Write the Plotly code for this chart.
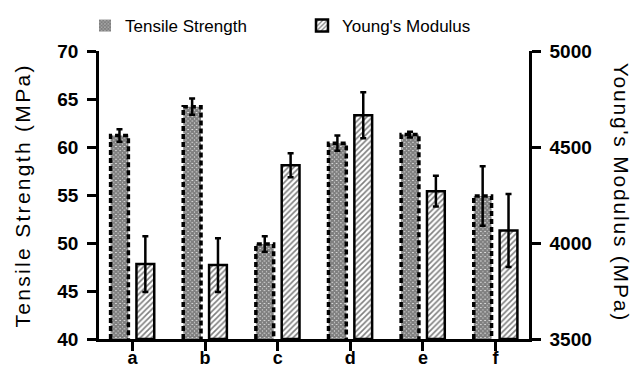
import plotly.graph_objects as go

categories = ["a", "b", "c", "d", "e", "f"]
tensile = [61.2, 64.2, 49.9, 60.4, 61.3, 54.9]
tensile_err = [0.65, 0.85, 0.8, 0.8, 0.3, 3.1]
young = [3890, 3885, 4405, 4665, 4270, 4065]
young_err = [145, 140, 62, 120, 80, 190]

FONT = "Liberation Sans, Arial, sans-serif"
idx = list(range(len(categories)))
shift = 0.178
bw = 0.245
x_t = [i - shift for i in idx]
x_y = [i + shift for i in idx]

fig = go.Figure()

fig.add_trace(go.Bar(
    x=x_t, y=[v - 40 for v in tensile], base=40, width=bw, name="Tensile Strength",
    legend="legend",
    marker=dict(color="white", line=dict(width=0),
                pattern=dict(shape="x", size=3, solidity=0.9, fgcolor="black", bgcolor="white")),
    error_y=dict(type="data", array=tensile_err, visible=True, color="black", thickness=2.5, width=3),
    yaxis="y",
))

# dashed outlines of the tensile bars (built from the data)
ox, oy = [], []
for xc, v in zip(x_t, tensile):
    ox += [xc - bw / 2, xc - bw / 2, xc + bw / 2, xc + bw / 2, None]
    oy += [40, v, v, 40, None]
fig.add_trace(go.Scatter(x=ox, y=oy, mode="lines", showlegend=False, hoverinfo="skip",
                         line=dict(color="black", width=3.5, dash="5px,3px"), yaxis="y"))

fig.add_trace(go.Bar(
    x=x_y, y=[v - 3500 for v in young], base=3500, width=bw, name="Young's Modulus",
    legend="legend2",
    marker=dict(color="white", line=dict(width=2.5, color="black"),
                pattern=dict(shape="/", size=4, solidity=0.4, fgcolor="black", bgcolor="white")),
    error_y=dict(type="data", array=young_err, visible=True, color="black", thickness=2.5, width=3),
    yaxis="y2",
))

axis_common = dict(showgrid=False, zeroline=False, showline=True, linecolor="black", linewidth=2.5,
                   ticks="outside", ticklen=9, tickwidth=2.5, tickcolor="black", automargin=False)
tick_font = dict(family=FONT, size=19, color="black", weight="bold")

legend_common = dict(orientation="h", xref="container", yref="container", y=1 - 8 / 370,
                     xanchor="left", yanchor="top", font=dict(family=FONT, size=17, color="black"),
                     bgcolor="rgba(0,0,0,0)")

fig.update_layout(
    width=633, height=370,
    margin=dict(l=99, r=104, t=51, b=31, autoexpand=False),
    plot_bgcolor="white", paper_bgcolor="white",
    barmode="overlay",
    xaxis=dict(range=[-0.46, 5.46], tickvals=idx, ticktext=categories, ticklabelstandoff=-8,
               tickfont=dict(family=FONT, size=18, color="black", weight="bold"), **axis_common),
    yaxis=dict(range=[40, 70], tickvals=[40, 45, 50, 55, 60, 65, 70], ticklabelstandoff=5,
               tickfont=tick_font, **axis_common),
    yaxis2=dict(range=[3500, 5000], tickvals=[3500, 4000, 4500, 5000], overlaying="y", side="right",
                ticklabelstandoff=5, tickfont=tick_font, **axis_common),
    legend=dict(x=85 / 633, **legend_common),
    legend2=dict(x=302 / 633, **legend_common),
    annotations=[
        dict(text="<span style='letter-spacing:2.3px'>Tensile Strength (MPa)</span>",
             xref="paper", yref="paper", x=-0.178, y=0.5, textangle=-90, showarrow=False,
             xanchor="center", yanchor="middle", font=dict(family=FONT, size=21, color="black")),
        dict(text="<span style='letter-spacing:1.8px'>Young's Modulus (MPa)</span>",
             xref="paper", yref="paper", x=1.215, y=0.51, textangle=90, showarrow=False,
             xanchor="center", yanchor="middle", font=dict(family=FONT, size=21, color="black")),
    ],
)

fig.write_html("out.html")
